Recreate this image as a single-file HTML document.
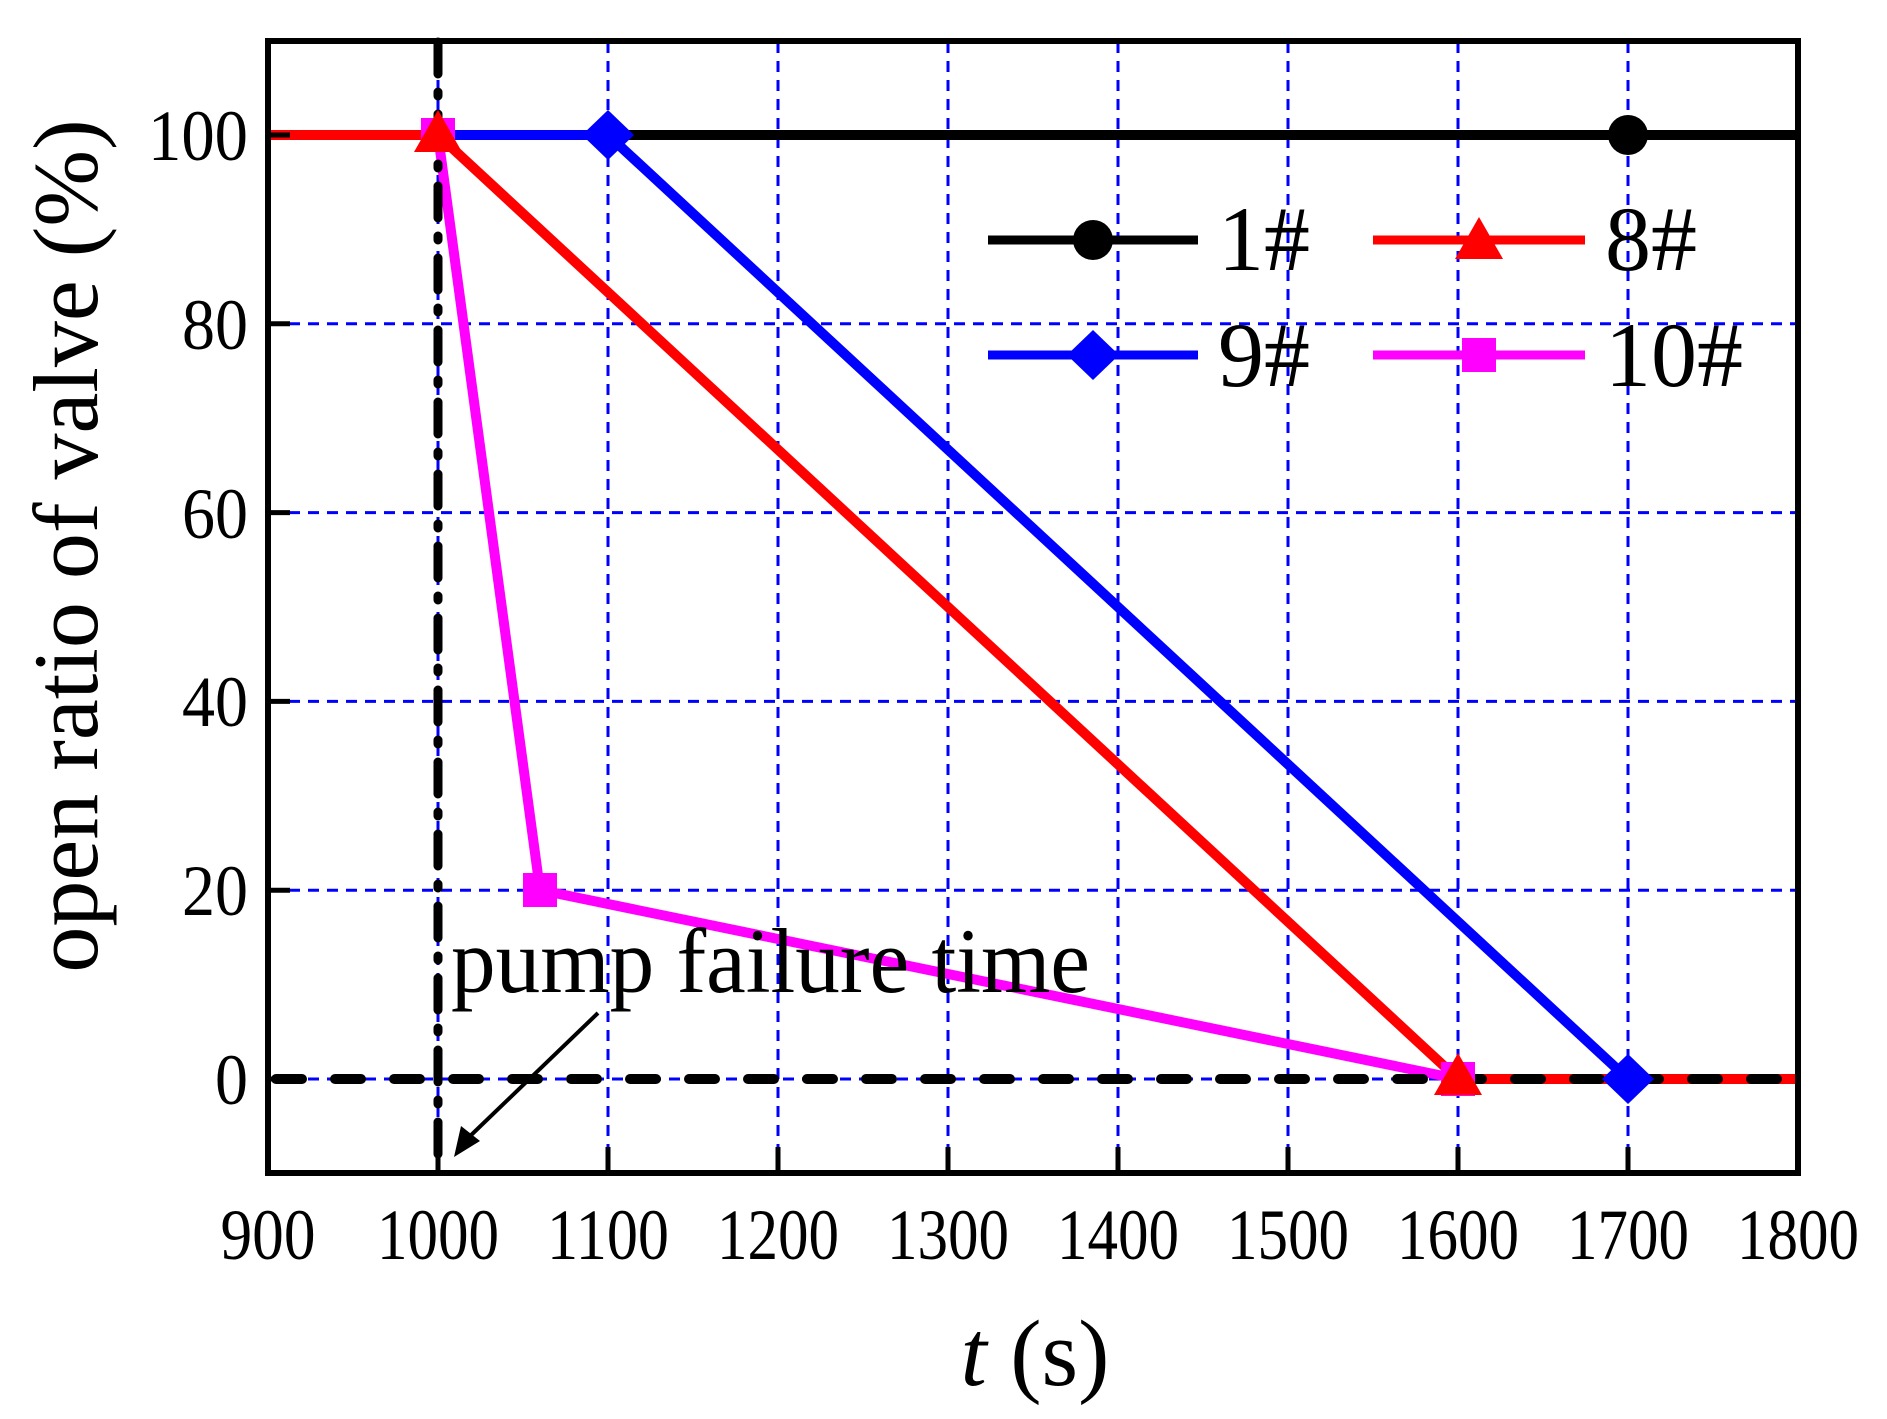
<!DOCTYPE html>
<html><head><meta charset="utf-8"><style>html,body{margin:0;padding:0;background:#fff}svg{display:block}</style></head>
<body>
<svg width="1887" height="1419" viewBox="0 0 1887 1419" xmlns="http://www.w3.org/2000/svg" font-family="'Liberation Serif', serif">
<rect width="1887" height="1419" fill="#fff"/>
<!-- grid -->
<g stroke="#0000ff" stroke-width="3" stroke-dasharray="11,8">
<line x1="438" y1="42" x2="438" y2="1171"/>
<line x1="608" y1="42" x2="608" y2="1171"/>
<line x1="778" y1="42" x2="778" y2="1171"/>
<line x1="948" y1="42" x2="948" y2="1171"/>
<line x1="1118" y1="42" x2="1118" y2="1171"/>
<line x1="1288" y1="42" x2="1288" y2="1171"/>
<line x1="1458" y1="42" x2="1458" y2="1171"/>
<line x1="1628" y1="42" x2="1628" y2="1171"/>
<line x1="270" y1="135" x2="1795" y2="135"/>
<line x1="270" y1="323.8" x2="1795" y2="323.8"/>
<line x1="270" y1="512.6" x2="1795" y2="512.6"/>
<line x1="270" y1="701.4" x2="1795" y2="701.4"/>
<line x1="270" y1="890.2" x2="1795" y2="890.2"/>
<line x1="270" y1="1079" x2="1795" y2="1079"/>
</g>
<!-- series -->
<g fill="none" stroke-width="10" stroke-linejoin="round">
<polyline points="438,135 1798,135" stroke="#000"/>
<polyline points="438,135 608,135 1628,1079" stroke="#0000ff"/>
<polyline points="268,135 438,135 1458,1079 1798,1079" stroke="#ff0000"/>
<polyline points="438,135 540,890 1458,1079" stroke="#ff00ff"/>
</g>
<!-- black dashed zero line & dash-dot vertical -->
<line x1="276" y1="1079" x2="1795" y2="1079" stroke="#000" stroke-width="10" stroke-linecap="round" stroke-dasharray="26,33"/>
<line x1="438" y1="42" x2="438" y2="1171" stroke="#000" stroke-width="9" stroke-linecap="round" stroke-dasharray="32,18,4,18"/>
<!-- markers -->
<circle cx="1628" cy="135" r="20" fill="#000"/>
<rect x="421" y="118" width="34" height="34" fill="#ff00ff"/>
<rect x="523" y="873" width="34" height="34" fill="#ff00ff"/>
<rect x="1441" y="1062" width="34" height="34" fill="#ff00ff"/>
<polygon points="438,110 414,152 462,152" fill="#ff0000"/>
<polygon points="1458,1053 1434,1095 1482,1095" fill="#ff0000"/>
<polygon points="608,110 634,135 608,160 582,135" fill="#0000ff"/>
<polygon points="1628,1054 1654,1079 1628,1104 1602,1079" fill="#0000ff"/>
<!-- frame -->
<rect x="268" y="41" width="1530" height="1132" fill="none" stroke="#000" stroke-width="6"/>
<g stroke="#000" stroke-width="5">
<line x1="268" y1="135" x2="290" y2="135"/><line x1="268" y1="323.8" x2="290" y2="323.8"/><line x1="268" y1="512.6" x2="290" y2="512.6"/><line x1="268" y1="701.4" x2="290" y2="701.4"/><line x1="268" y1="890.2" x2="290" y2="890.2"/><line x1="268" y1="1079" x2="290" y2="1079"/>
<line x1="438" y1="1173" x2="438" y2="1147"/><line x1="608" y1="1173" x2="608" y2="1147"/><line x1="778" y1="1173" x2="778" y2="1147"/><line x1="948" y1="1173" x2="948" y2="1147"/><line x1="1118" y1="1173" x2="1118" y2="1147"/><line x1="1288" y1="1173" x2="1288" y2="1147"/><line x1="1458" y1="1173" x2="1458" y2="1147"/><line x1="1628" y1="1173" x2="1628" y2="1147"/>
</g>
<!-- tick labels -->
<g font-size="72" text-anchor="end" fill="#000" lengthAdjust="spacingAndGlyphs">
<text x="248" y="160" textLength="100" lengthAdjust="spacingAndGlyphs">100</text><text x="248" y="349" textLength="66" lengthAdjust="spacingAndGlyphs">80</text><text x="248" y="538" textLength="66" lengthAdjust="spacingAndGlyphs">60</text><text x="248" y="726" textLength="66" lengthAdjust="spacingAndGlyphs">40</text><text x="248" y="915" textLength="66" lengthAdjust="spacingAndGlyphs">20</text><text x="248" y="1104" textLength="33" lengthAdjust="spacingAndGlyphs">0</text>
</g>
<g font-size="72" text-anchor="middle" fill="#000">
<text x="268" y="1259" textLength="95" lengthAdjust="spacingAndGlyphs">900</text><text x="438" y="1259" textLength="122" lengthAdjust="spacingAndGlyphs">1000</text><text x="608" y="1259" textLength="122" lengthAdjust="spacingAndGlyphs">1100</text><text x="778" y="1259" textLength="122" lengthAdjust="spacingAndGlyphs">1200</text><text x="948" y="1259" textLength="122" lengthAdjust="spacingAndGlyphs">1300</text><text x="1118" y="1259" textLength="122" lengthAdjust="spacingAndGlyphs">1400</text><text x="1288" y="1259" textLength="122" lengthAdjust="spacingAndGlyphs">1500</text><text x="1458" y="1259" textLength="122" lengthAdjust="spacingAndGlyphs">1600</text><text x="1628" y="1259" textLength="122" lengthAdjust="spacingAndGlyphs">1700</text><text x="1798" y="1259" textLength="122" lengthAdjust="spacingAndGlyphs">1800</text>
</g>
<!-- axis titles -->
<text x="1035" y="1385" font-size="94" text-anchor="middle"><tspan font-style="italic">t</tspan> (s)</text>
<text transform="translate(97,546) rotate(-90)" font-size="92" text-anchor="middle">open ratio of valve (%)</text>
<!-- legend -->
<g stroke-width="9">
<line x1="988" y1="240" x2="1198" y2="240" stroke="#000"/>
<line x1="1373" y1="240" x2="1585" y2="240" stroke="#ff0000"/>
<line x1="988" y1="355" x2="1198" y2="355" stroke="#0000ff"/>
<line x1="1373" y1="355" x2="1585" y2="355" stroke="#ff00ff"/>
</g>
<circle cx="1093" cy="240" r="20" fill="#000"/>
<polygon points="1479,217 1455,259 1503,259" fill="#ff0000"/>
<polygon points="1093,330 1119,355 1093,380 1067,355" fill="#0000ff"/>
<rect x="1462" y="338" width="34" height="34" fill="#ff00ff"/>
<g font-size="92" fill="#000">
<text x="1218" y="270">1#</text><text x="1605" y="270">8#</text>
<text x="1218" y="386">9#</text><text x="1605" y="386">10#</text>
</g>
<!-- annotation -->
<text x="451" y="992" font-size="92" textLength="639" lengthAdjust="spacingAndGlyphs">pump failure time</text>
<line x1="598" y1="1013" x2="466" y2="1140" stroke="#000" stroke-width="4"/>
<polygon points="454,1157 461,1126 480,1141" fill="#000"/>
</svg>
</body></html>
